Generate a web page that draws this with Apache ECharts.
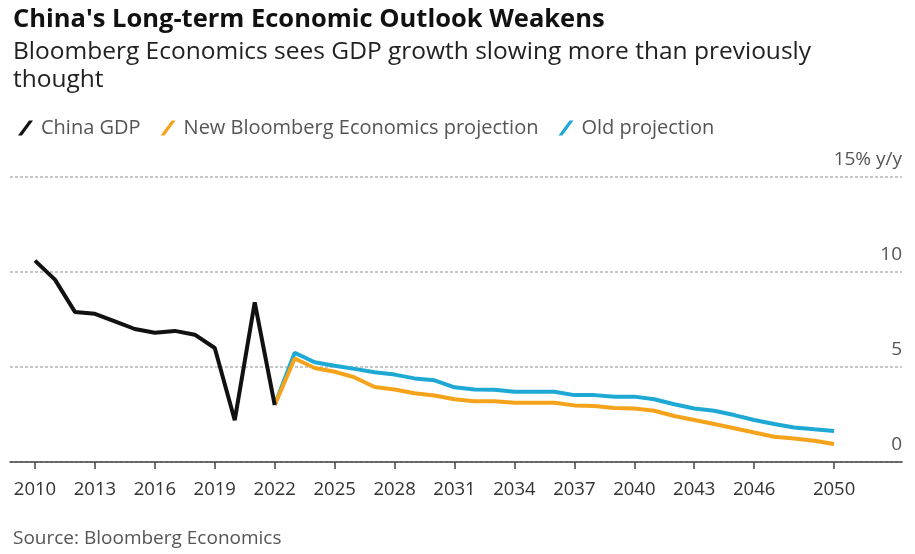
<!DOCTYPE html>
<html lang="en">
  <head>
    <meta charset="UTF-8" />
    <title>China's Long-term Economic Outlook Weakens</title>
    <script src="https://cdn.jsdelivr.net/npm/echarts@6/dist/echarts.min.js"></script>
    <style>
      html, body { margin: 0; padding: 0; background: #fff; }
      #main { width: 915px; height: 554px; }
    </style>
  </head>
  <body>
    <div id="main"></div>

    <script>
      // actual growth, % y/y
      var gdpYears = [2010, 2011, 2012, 2013, 2014, 2015, 2016, 2017, 2018, 2019, 2020, 2021, 2022];
      var gdpActual = [10.6, 9.6, 7.9, 7.8, 7.4, 7.0, 6.8, 6.9, 6.7, 6.0, 2.2, 8.4, 3.0];

      // projections start from the 2022 actual
      var projYears = [2022, 2023, 2024, 2025, 2026, 2027, 2028, 2029, 2030, 2031, 2032, 2033, 2034, 2035, 2036,
        2037, 2038, 2039, 2040, 2041, 2042, 2043, 2044, 2045, 2046, 2047, 2048, 2049, 2050];
      var newProjection = [3.0, 5.45, 4.95, 4.75, 4.45, 3.95, 3.82, 3.62, 3.5, 3.3, 3.2, 3.2, 3.12, 3.12, 3.12,
        2.98, 2.95, 2.84, 2.82, 2.7, 2.42, 2.21, 2.0, 1.78, 1.55, 1.33, 1.24, 1.12, 0.95];
      var oldProjection = [3.0, 5.75, 5.25, 5.07, 4.9, 4.72, 4.6, 4.4, 4.3, 3.93, 3.82, 3.8, 3.7, 3.7, 3.7,
        3.52, 3.52, 3.44, 3.44, 3.3, 3.04, 2.82, 2.7, 2.47, 2.21, 2.0, 1.82, 1.72, 1.63];

      var tickYears = [2010, 2013, 2016, 2019, 2022, 2025, 2028, 2031, 2034, 2037, 2040, 2043, 2046, 2050];

      function pairs(xs, ys) {
        return xs.map(function (x, i) { return [x, ys[i]]; });
      }

      var chart = echarts.init(document.getElementById("main"));
      var font = "Open Sans";
      var slash = "path://M0,15 L4,15 L15,0 L11,0 Z";

      var option = {
        animation: false,
        textStyle: { fontFamily: font },
        title: [
          {
            text: "China's Long-term Economic Outlook Weakens",
            subtext: "Bloomberg Economics sees GDP growth slowing more than previously\nthought",
            left: 8,
            top: 2,
            itemGap: 5,
            textStyle: { fontFamily: font, fontSize: 25.5, fontWeight: "bold", color: "#111" },
            subtextStyle: { fontFamily: font, fontSize: 24.5, color: "#222", lineHeight: 28 }
          },
          {
            text: "Source: Bloomberg Economics",
            left: 8,
            top: 524,
            textStyle: { fontFamily: font, fontSize: 19, fontWeight: "normal", color: "#555" }
          }
        ],
        legend: {
          left: 13,
          top: 113,
          itemWidth: 15,
          itemHeight: 15,
          itemGap: 20,
          data: [
            { name: "China GDP", icon: slash },
            { name: "New Bloomberg Economics projection", icon: slash },
            { name: "Old projection", icon: slash }
          ],
          textStyle: { fontFamily: font, fontSize: 20, color: "#555", padding: [0, 0, 0, 3] }
        },
        grid: { left: 10, right: 13, top: 177, bottom: 92 },
        xAxis: {
          type: "value",
          min: 2008.75,
          max: 2053.4,
          axisLine: { show: true, lineStyle: { color: "#444", width: 1.5 } },
          axisTick: { show: true, customValues: tickYears, length: 7, lineStyle: { color: "#444", width: 1.5 } },
          axisLabel: {
            customValues: tickYears,
            margin: 18,
            fontFamily: font,
            fontSize: 18.5,
            color: "#333",
            formatter: function (v) { return String(v); }
          },
          splitLine: { show: false }
        },
        yAxis: {
          type: "value",
          position: "right",
          min: 0,
          max: 15,
          interval: 5,
          axisLine: { show: false },
          axisTick: { show: false },
          axisLabel: {
            inside: true,
            margin: 0,
            verticalAlign: "bottom",
            padding: [0, 0, 8, 0],
            fontFamily: font,
            fontSize: 19,
            color: "#555",
            formatter: function (v) { return v === 15 ? "15% y/y" : String(v); }
          },
          splitLine: {
            show: true,
            lineStyle: { color: "#b5b5b5", width: 1.5, type: [3, 2] }
          }
        },
        series: [
          {
            name: "China GDP",
            type: "line",
            data: pairs(gdpYears, gdpActual),
            symbol: "none",
            color: "#111111",
            lineStyle: { width: 4 },
            z: 4
          },
          {
            name: "New Bloomberg Economics projection",
            type: "line",
            data: pairs(projYears, newProjection),
            symbol: "none",
            color: "#f5a31a",
            lineStyle: { width: 4 },
            z: 3
          },
          {
            name: "Old projection",
            type: "line",
            data: pairs(projYears, oldProjection),
            symbol: "none",
            color: "#1ea8d4",
            lineStyle: { width: 4 },
            z: 2
          }
        ]
      };

      chart.setOption(option);
    </script>
  </body>
</html>
